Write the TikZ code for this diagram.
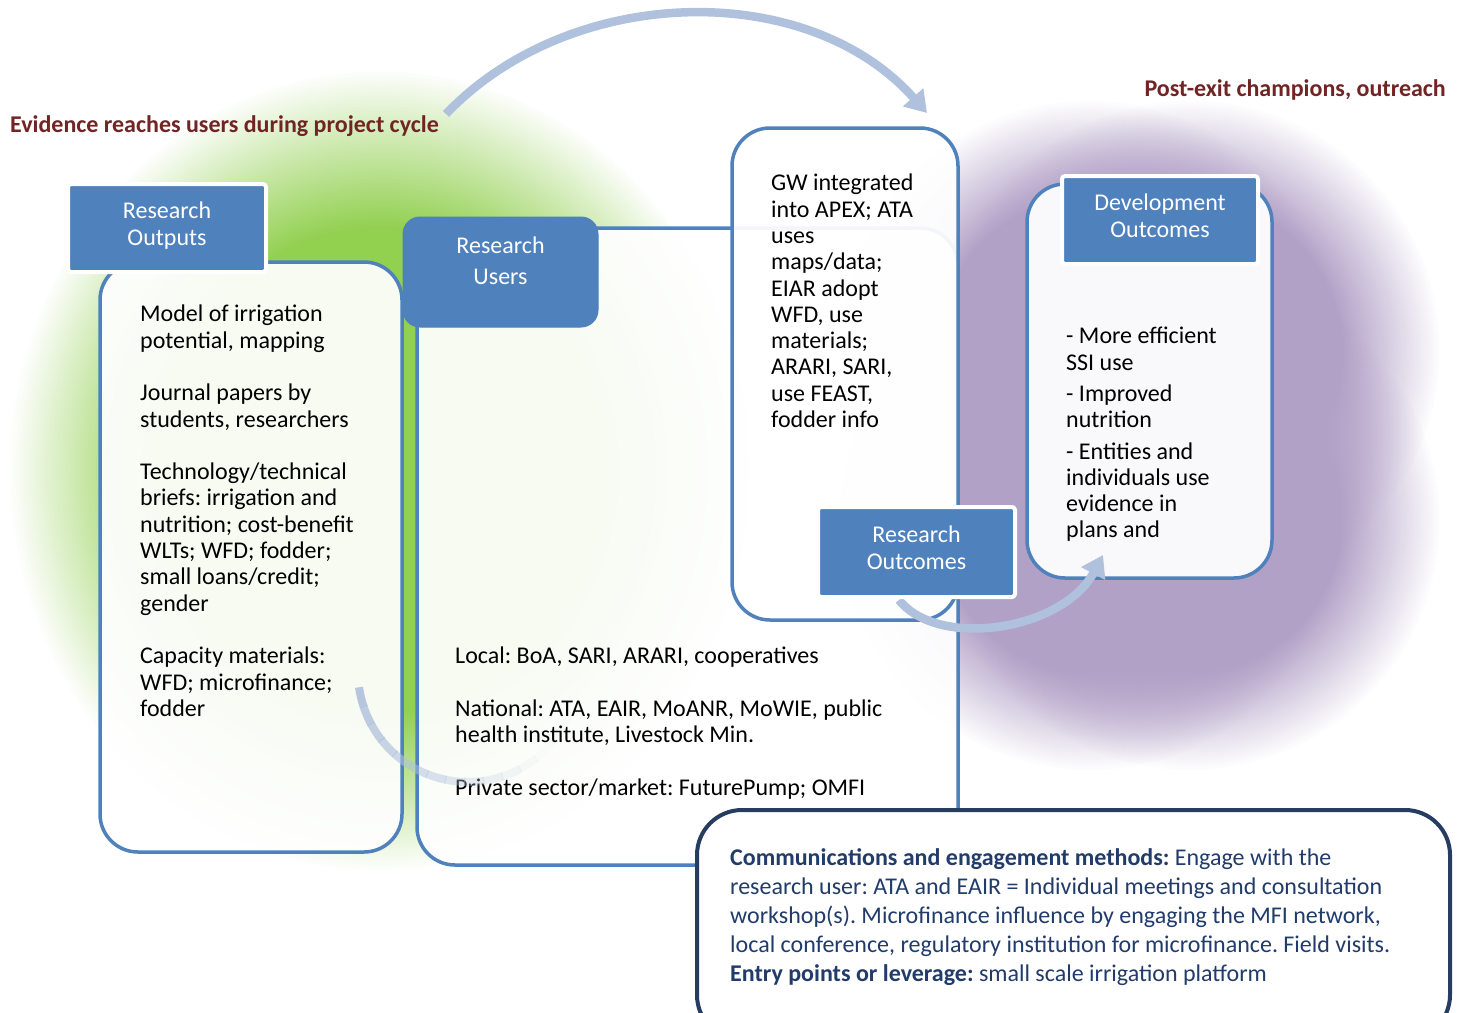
\documentclass[tikz,border=0pt]{standalone}
\usepackage{fontspec}
\setmainfont{Carlito}
\usetikzlibrary{arrows.meta,fadings}
\frenchspacing

\definecolor{hdblue}{RGB}{79,129,189}
\definecolor{lnblue}{RGB}{79,129,189}
\definecolor{arrblue}{RGB}{176,193,221}
\definecolor{ttlred}{RGB}{112,36,36}
\definecolor{navy}{RGB}{38,60,96}
\definecolor{cmtxt}{RGB}{33,60,106}
\definecolor{glowgreen}{RGB}{146,208,80}
\definecolor{glowpurple}{RGB}{178,161,199}

\newcommand\bodyfont{\fontsize{24}{26.3}\selectfont}
\newcommand\hdfont{\fontsize{24}{27}\selectfont}
\newcommand\ttlfont{\fontsize{24}{28}\selectfont\bfseries}
\newcommand\cmfont{\fontsize{24}{29.2}\selectfont}

% soft glow behind the two groups
\pgfdeclareradialshading{glowshade}{\pgfpointorigin}{color(0bp)=(pgftransparent!0); color(15bp)=(pgftransparent!0); color(25bp)=(pgftransparent!100); color(50bp)=(pgftransparent!100)}
\pgfdeclarefading{glow}{\pgfuseshading{glowshade}}

\begin{document}
\begin{tikzpicture}[x=1pt, y=-1pt, line join=round, >={Triangle[length=21pt,width=26pt]},
	panel/.style={draw=lnblue, line width=3.5pt, fill=white, fill opacity=.93, rounded corners=38pt, inner sep=0pt},
	head/.style={fill=hdblue, draw=white, line width=4pt, rounded corners=3pt, text=white, align=center, font=\hdfont, inner sep=0pt, text depth=9pt},
	body/.style={anchor=north west, align=left, inner sep=0pt, font=\bodyfont},
	ttl/.style={font=\ttlfont, text=ttlred, inner sep=0pt},
	flow/.style={draw=arrblue, line width=8.5pt, ->},
	blob/.style={path fading=glow, fit fading=true}]
	\clip (0,0) rectangle (1464,1012);
	\fill[white] (0,0) rectangle (1464,1012);
	% glows
	\fill[glowgreen, blob] (380,470) ellipse (370 and 400);
	\foreach \gx in {1090,1190}
		\foreach \gy in {350,520}
			\fill[glowpurple, blob] (\gx,\gy) circle (250);
	
	% panels
	\node[panel, minimum width=302, minimum height=590] (outbody) at (251,557) {};
	\node[panel, minimum width=541, minimum height=637] (usrbody) at (687.5,546.5) {};
	\node[panel, minimum width=226, minimum height=492] (gwbody) at (845,374) {};
	\node[panel, minimum width=245, minimum height=394] (devbody) at (1149.5,381) {};
	
	% small arc to development outcomes
	\coordinate (devin) at (1103,555);
	\draw[flow] (899,600) .. controls +(40,50) and +(-40,75) .. (devin);
	
	% headers
	\node[head, minimum width=198, minimum height=88] (outhd) at (167,228) {Research\\Outputs};
	\node[head, draw=hdblue, line width=1pt, rounded corners=17pt, text depth=22pt, minimum width=195, minimum height=110] (usrhd) at (500.5,272) {Research\\[4pt]Users};
	\node[head, minimum width=197, minimum height=90] (rohd) at (916.5,552) {Research\\Outcomes};
	\node[head, minimum width=196, minimum height=88] (devhd) at (1160,220) {Development\\Outcomes};
	
	% communications box
	\node[panel, draw=navy, line width=4pt, fill opacity=1, rounded corners=45pt, minimum width=753, minimum height=230] (combox) at (1073.5,925) {};
	
	% titles
	\node[ttl, anchor=west] (ttlL) at (10,126) {Evidence reaches users during project cycle};
	\node[ttl, anchor=east] (ttlR) at (1446,90) {Post-exit champions, outreach};
	
	% texts
	\begin{scope}
		\clip (100,262) rectangle (402,717);
		\node[body] (outtxt) at (140,305) {Model of irrigation\\potential, mapping\\[26.3pt]Journal papers by\\students, researchers\\[26.3pt]Technology/technical\\briefs: irrigation and\\nutrition; cost-benefit\\WLTs; WFD; fodder;\\small loans/credit;\\gender\\[26.3pt]Capacity materials:\\WFD; microfinance;\\fodder};
	\end{scope}
	\node[body] (usrtxt) at (455,647) {Local: BoA, SARI, ARARI, cooperatives\\[26.3pt]National: ATA, EAIR, MoANR, MoWIE, public\\health institute, Livestock Min.\\[26.3pt]Private sector/market: FuturePump; OMFI};
	\node[body] (gwtxt) at (771,174) {GW integrated\\into APEX; ATA\\uses\\maps/data;\\EIAR adopt\\WFD, use\\materials;\\ARARI, SARI,\\use FEAST,\\fodder info};
	\node[body] (devtxt) at (1066,327) {- More efficient\\SSI use\\[5pt]- Improved\\nutrition\\[5pt]- Entities and\\individuals use\\evidence in\\plans and};
	\node[body, font=\cmfont, text=cmtxt] (comtxt) at (730,848) {\textbf{Communications and engagement methods:} Engage with the\\research user: ATA and EAIR = Individual meetings and consultation\\workshop(s). Microfinance influence by engaging the MFI network,\\local conference, regulatory institution for microfinance. Field visits.\\\textbf{Entry points or leverage:} small scale irrigation platform};
	
	% big arc from evidence to users
	\coordinate (arcA) at (446,114);
	\coordinate (arcB) at (927,113);
	\draw[flow] (arcA) .. controls +(124,-130) and +(-120,-135) .. (arcB);
	
	% faint arc, fading out
	\coordinate (fc) at (468,672);
	\foreach \a [count=\i] in {172,162,...,32}
		\draw[arrblue, line width=8pt, opacity={max(0.9-0.075*(\i-1),0.03)}] (fc) ++(\a:110) arc (\a:\a-10.5:110);
\end{tikzpicture}
\end{document}
